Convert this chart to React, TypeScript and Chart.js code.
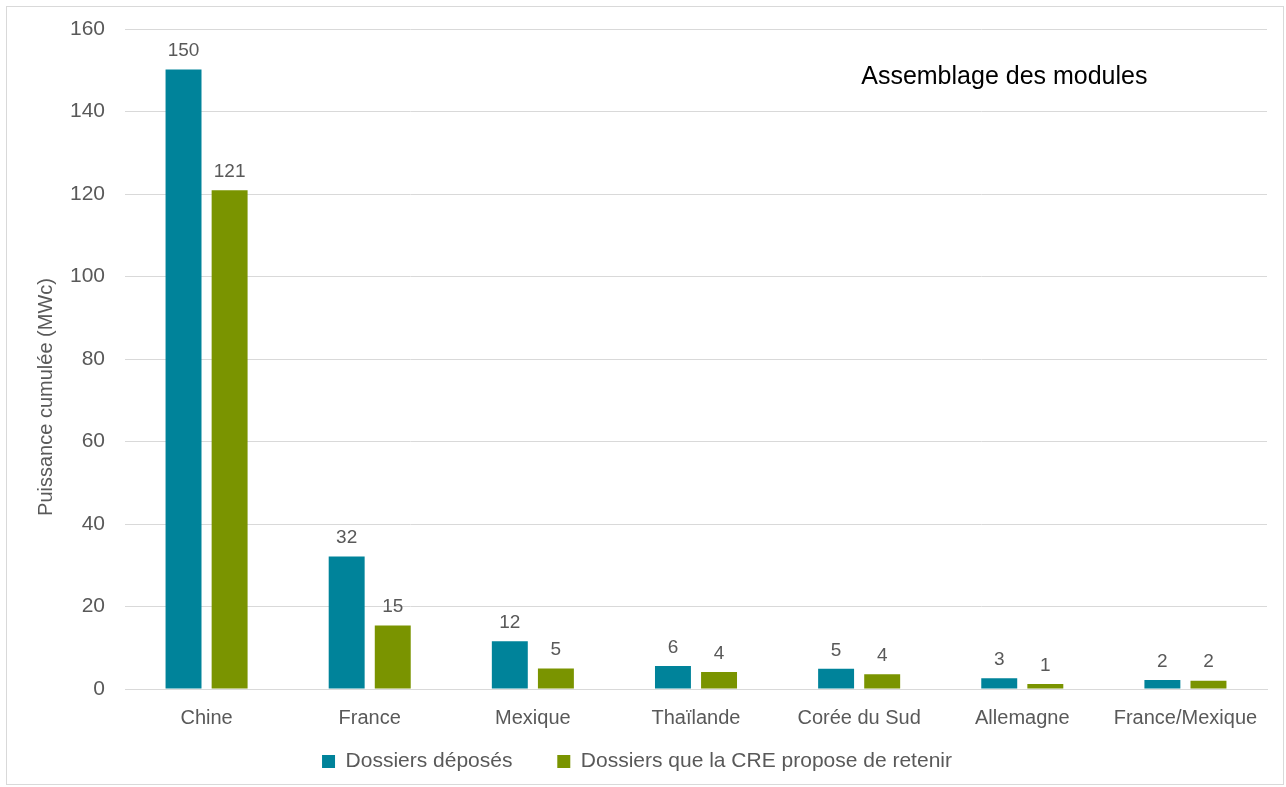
import React, { useEffect, useRef } from "react";
import { Chart, registerables } from "chart.js";

Chart.register(...registerables);

const categories = ["Chine", "France", "Mexique", "Thaïlande", "Corée du Sud", "Allemagne", "France/Mexique"];
const deposes = [150.2, 32.1, 11.6, 5.6, 4.9, 2.6, 2.2];
const retenus = [120.9, 15.4, 5.0, 4.1, 3.6, 1.2, 2.0];
const seriesNames = ["Dossiers déposés", "Dossiers que la CRE propose de retenir"];
const chartTitle = "Assemblage des modules";
const yAxisTitle = "Puissance cumulée (MWc)";

const FONT = "'Liberation Sans', Arial, sans-serif";
const GRAY = "#595959";
const TEAL = "#00839A";
const GREEN = "#7A9400";

const labelsPlugin = {
  id: "customLabels",
  afterDatasetsDraw(chart: any) {
    const ctx = chart.ctx;
    ctx.save();
    ctx.font = `19px ${FONT}`;
    ctx.fillStyle = GRAY;
    ctx.textAlign = "center";
    ctx.textBaseline = "bottom";
    chart.data.datasets.forEach((ds: any, di: number) => {
      const meta = chart.getDatasetMeta(di);
      meta.data.forEach((bar: any, i: number) => {
        ctx.fillText(String(Math.round(ds.data[i])), bar.x, bar.y - 9);
      });
    });
    const ca = chart.chartArea;
    ctx.font = `25px ${FONT}`;
    ctx.fillStyle = "#000000";
    ctx.textBaseline = "middle";
    ctx.fillText(chartTitle, ca.left + (ca.right - ca.left) * 0.77, ca.top + 48);
    ctx.save();
    ctx.translate(39, (ca.top + ca.bottom) / 2 + 38);
    ctx.rotate(-Math.PI / 2);
    ctx.font = `20px ${FONT}`;
    ctx.fillStyle = GRAY;
    ctx.fillText(yAxisTitle, 0, 0);
    ctx.restore();
    ctx.restore();
  },
};

export default function App() {
  const ref = useRef<HTMLCanvasElement>(null);
  useEffect(() => {
    if (!ref.current) return;
    const chart = new Chart(ref.current, {
      type: "bar",
      data: {
        labels: categories,
        datasets: [
          { label: seriesNames[0], data: deposes, backgroundColor: TEAL, barPercentage: 0.78, categoryPercentage: 0.565 },
          { label: seriesNames[1], data: retenus, backgroundColor: GREEN, barPercentage: 0.78, categoryPercentage: 0.565 },
        ],
      },
      options: {
        responsive: false,
        animation: false,
        layout: { padding: { top: 22, right: 16, left: 0, bottom: 2 } },
        plugins: {
          legend: {
            position: "bottom",
            labels: {
              font: { family: FONT, size: 21 },
              color: GRAY,
              boxWidth: 13,
              boxHeight: 13,
              padding: 4,
              generateLabels(chart: any) {
                const items = Chart.defaults.plugins.legend.labels.generateLabels(chart);
                items.forEach((it: any, i: number) => {
                  if (i === 0) it.text = it.text + "       ";
                });
                return items;
              },
            },
          },
          tooltip: { enabled: false },
        },
        scales: {
          x: {
            grid: { display: false, drawTicks: false },
            border: { display: true, color: "#D9D9D9" },
            ticks: { font: { family: FONT, size: 20 }, color: GRAY, padding: 17 },
          },
          y: {
            min: 0,
            max: 160,
            afterFit(scale: any) {
              scale.width = 118;
              scale.paddingTop = 0;
            },
            grid: { color: "#D9D9D9", drawTicks: false },
            border: { display: false },
            ticks: { stepSize: 20, font: { family: FONT, size: 21 }, color: GRAY, padding: 20 },
          },
        },
      },
      plugins: [labelsPlugin],
    });
    return () => chart.destroy();
  }, []);
  return (
    <div
      style={{
        position: "absolute",
        left: 6,
        top: 6,
        width: 1278,
        height: 779,
        border: "1px solid #D9D9D9",
        boxSizing: "border-box",
        background: "#fff",
      }}
    >
      <canvas ref={ref} width={1276} height={777} style={{ display: "block" }} />
    </div>
  );
}
